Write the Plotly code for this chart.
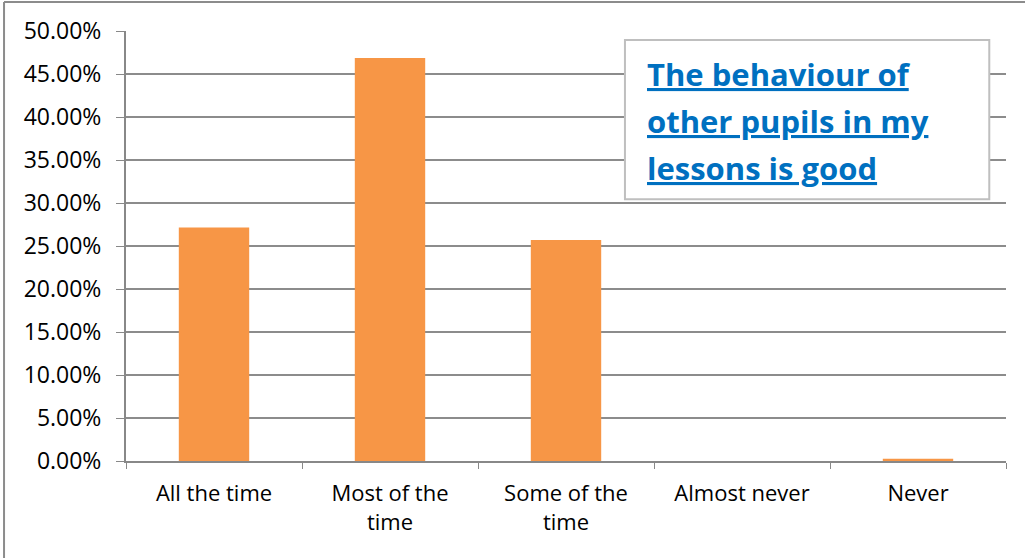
import plotly.graph_objects as go

categories = ["All the time", "Most of the<br>time", "Some of the<br>time", "Almost never", "Never"]
shares = [0.2715, 0.4686, 0.2570, 0.0, 0.0025]
y_ticks = [0, 0.05, 0.10, 0.15, 0.20, 0.25, 0.30, 0.35, 0.40, 0.45, 0.50]
title_lines = ["The behaviour of", "other pupils in my", "lessons is good"]

fig = go.Figure(go.Bar(
    x=categories,
    y=shares,
    marker=dict(color="#F79646", line=dict(width=0)),
    showlegend=False,
))

fig.update_layout(
    width=1025,
    height=558,
    margin=dict(l=126, r=19, t=31, b=97),
    plot_bgcolor="white",
    paper_bgcolor="white",
    bargap=0.6,
    font=dict(family="Open Sans", size=23, color="black"),
    xaxis=dict(
        showgrid=False,
        ticks="outside",
        tickson="boundaries",
        ticklen=6,
        tickcolor="#888888",
        showline=True,
        linecolor="#888888",
        linewidth=2,
        tickfont=dict(size=22),
        ticklabelstandoff=12,
    ),
    yaxis=dict(
        range=[0, 0.5],
        tickvals=y_ticks,
        tickformat=".2%",
        ticks="outside",
        ticklen=8,
        tickcolor="#888888",
        showgrid=True,
        gridcolor="#8C8C8C",
        gridwidth=1.5,
        showline=True,
        linecolor="#888888",
        linewidth=2,
        zeroline=False,
        tickfont=dict(size=23),
        ticklabelstandoff=10,
    ),
)

# outer chart frame (only left and top edges are visible)
fig.add_shape(type="line", xref="paper", yref="paper",
              x0=-0.1386, x1=-0.1386, y0=-0.23, y1=1.0674,
              line=dict(color="#8C8C8C", width=2))
fig.add_shape(type="line", xref="paper", yref="paper",
              x0=-0.1386, x1=1.03, y0=1.0674, y1=1.0674,
              line=dict(color="#8C8C8C", width=2))

# title box
fig.add_shape(type="rect", xref="paper", yref="paper",
              x0=0.567, x1=0.981, y0=0.609, y1=0.979,
              line=dict(color="#BFBFBF", width=2), fillcolor="white")

for i, line in enumerate(title_lines):
    fig.add_annotation(
        xref="paper", yref="paper",
        x=0.5898, y=0.90 - i * 0.1093, xanchor="left", yanchor="middle",
        text="<u><b>" + line + "</b></u>",
        showarrow=False, align="left",
        font=dict(family="Open Sans", size=31, color="#0070C0"),
    )

fig.write_html("out.html", config={"displayModeBar": False},
               post_script="document.body.style.margin='0px';")
